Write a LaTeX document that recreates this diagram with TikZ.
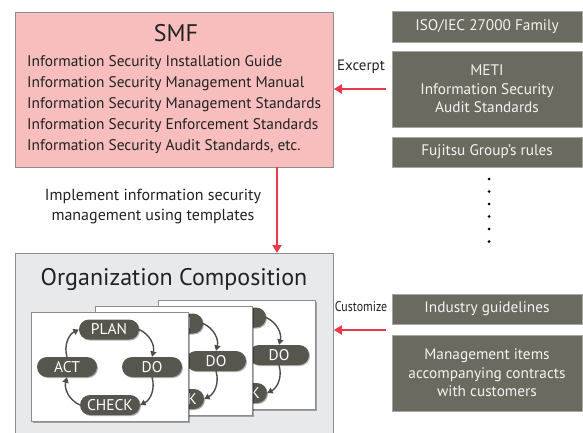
\documentclass[tikz,border=0pt]{standalone}
\usepackage{fontspec}
\setmainfont{PT Sans}
\usetikzlibrary{arrows.meta,shapes.misc,shadows}
\definecolor{smfpink}{HTML}{F8BDBD}
\definecolor{orggray}{HTML}{E8E9EB}
\definecolor{boxgray}{HTML}{6B6A61}
\definecolor{boxedge}{HTML}{A8A7A0}
\definecolor{pillgray}{HTML}{57564E}
\definecolor{edgegray}{HTML}{8C8C8C}
\definecolor{redarrow}{HTML}{E8384A}
\definecolor{txt}{HTML}{222222}
\tikzset{
  bigbox/.style={draw=edgegray, line width=0.8pt, anchor=north west, inner sep=0pt},
  graybox/.style={draw=boxedge, line width=0.8pt, fill=boxgray, text=white!92!boxgray,
     font=\fontsize{15.3}{18.5}\selectfont, align=center, minimum width=190pt, inner sep=0pt},
  redarr/.style={draw=redarrow, line width=2.6pt, -{Triangle[length=8pt,width=9pt]}},
  card/.style={draw=edgegray, fill=white, line width=0.8pt, minimum width=157pt, minimum height=109pt, inner sep=0pt,
     drop shadow={shadow xshift=1.5pt, shadow yshift=-1.5pt, opacity=.3, fill=black}},
  pill/.style={rounded rectangle, fill=pillgray, text=white, minimum width=60pt, minimum height=20pt, inner sep=0pt,
     font=\fontsize{15.5}{15.5}\selectfont,
     drop shadow={shadow xshift=1pt, shadow yshift=-1pt, opacity=.3, fill=black}},
  cyc/.style={draw=pillgray!90!black, line width=1.4pt, -{Triangle[length=5.5pt,width=6pt]}},
  lbl/.style={text=txt, inner sep=0pt},
}
\newcommand\pdcacard[3]{%
  \node[card] (#1card) at (#2+78.5,#3+54.5) {};
  \node[pill] (#1plan) at (#2+78,#3+17.5) {PLAN};
  \node[pill] (#1do) at (#2+121,#3+55) {DO};
  \node[pill] (#1act) at (#2+36,#3+55) {ACT};
  \node[pill] (#1check) at (#2+79,#3+93) {CHECK};
  \draw[cyc] (#1plan.east) to[bend left=40] (#1do.north);
  \draw[cyc] (#1do.south) to[bend left=40] (#1check.east);
  \draw[cyc] (#1check.west) to[bend left=40] (#1act.south);
  \draw[cyc] (#1act.north) to[bend left=40] (#1plan.west);
}
\begin{document}
\begin{tikzpicture}[x=1pt,y=-1pt]
\useasboundingbox (0,0) rectangle (583,432);
\begin{scope}
\clip (0,0) rectangle (583,432);
% SMF box
\node[bigbox, fill=smfpink, minimum width=318pt, minimum height=155pt] (smf) at (15,12) {};
\node[lbl, font=\fontsize{24}{24}\selectfont] (smftitle) at (176,33) {SMF};
\node[lbl, anchor=west, align=left, font=\fontsize{15.4}{21}\selectfont] (smflist) at (27,104.5) {Information Security Installation Guide\\
Information Security Management Manual\\
Information Security Management Standards\\
Information Security Enforcement Standards\\
Information Security Audit Standards, etc.};
% right boxes
\node[graybox, minimum height=31pt] (iso) at (487,26.5) {ISO/IEC 27000 Family};
\node[graybox, minimum height=76pt] (meti) at (487,89) {METI\\Information Security\\Audit Standards};
\node[graybox, minimum height=30pt] (fuji) at (487,152) {Fujitsu Group’s rules};
\foreach \i/\yy in {1/179,2/191.5,3/204,4/216.5,5/229,6/241.5}
  \fill[black] (489,\yy) circle (1.5pt);
\node[lbl, font=\fontsize{15}{15}\selectfont] (excerpt) at (361,67) {Excerpt};
\coordinate (exsrc) at (386,89);
\draw[redarr] (exsrc) -- (smf.east |- exsrc);
% implement arrow
\node[bigbox, fill=orggray, minimum width=318pt, minimum height=200pt] (org) at (15,253) {};
\draw[redarr] (277,167) coordinate (imptop) -- (imptop |- org.north);
\node[lbl, align=center, font=\fontsize{16}{20}\selectfont] (impl) at (153,207) {Implement information security\\management using templates};
\node[lbl, font=\fontsize{24}{24}\selectfont] (orgtitle) at (174,279) {Organization Composition};
% cards
\pdcacard{c}{158}{300}
\pdcacard{b}{95}{306}
\pdcacard{a}{31}{312}
% bottom right
\node[graybox, minimum height=30pt] (ind) at (487,309) {Industry guidelines};
\node[graybox, minimum height=76pt] (mgmt) at (487,373) {Management items\\accompanying contracts\\with customers};
\node[lbl, font=\fontsize{14}{14}\selectfont, xscale=0.85, transform shape] (cust) at (361,307) {Customize};
\coordinate (cusrc) at (386,330);
\draw[redarr] (cusrc) -- (org.east |- cusrc);
\end{scope}
\end{tikzpicture}
\end{document}
